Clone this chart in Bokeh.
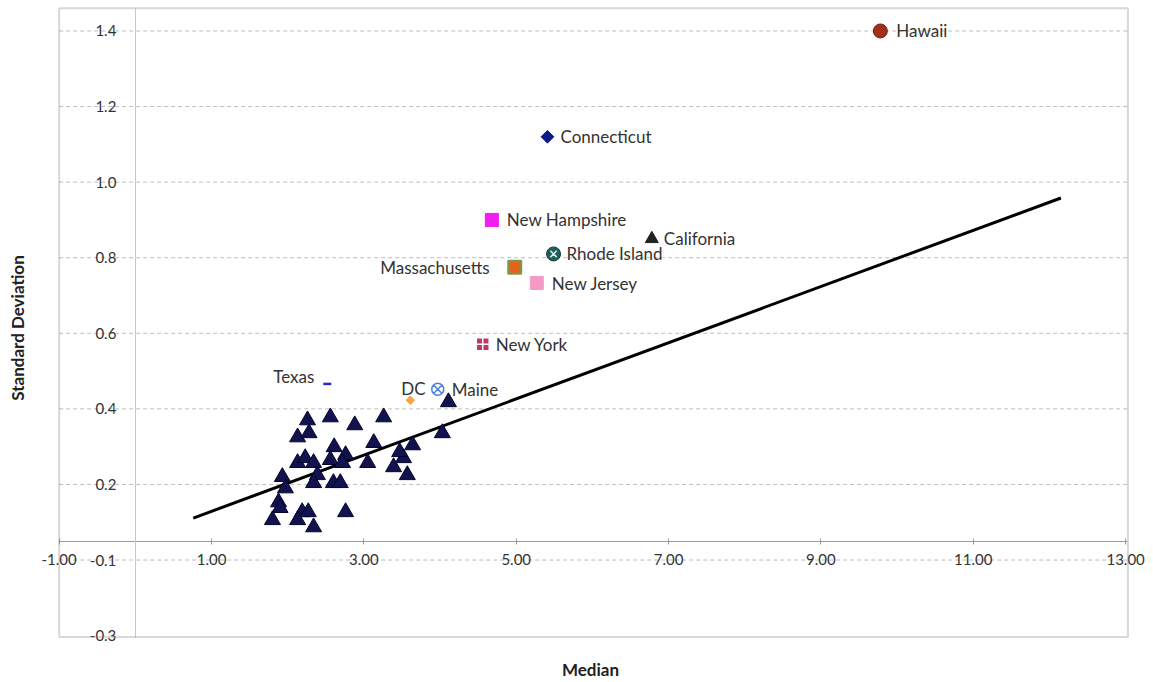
import math
from bokeh.plotting import figure
from bokeh.models import (LinearAxis, FixedTicker, Grid, Range1d, ColumnDataSource, Title,
                          BoxAnnotation)
from bokeh.embed import file_html
from bokeh.resources import INLINE
from bokeh.core.properties import value

# ---------------- data ----------------
tri_median = [4.11, 2.26, 2.56, 2.88, 3.26, 2.13, 2.28, 4.03, 2.61, 3.13,
              3.64, 2.13, 2.23, 2.34, 2.56, 2.76, 2.72, 3.05, 3.39, 3.52,
              3.47, 3.57, 1.93, 2.39, 2.34, 2.60, 2.69, 1.97, 1.88, 1.90,
              1.80, 2.19, 2.27, 2.13, 2.34, 2.76]
tri_sd = [0.418, 0.370, 0.378, 0.357, 0.378, 0.325, 0.336, 0.336, 0.299, 0.310,
          0.304, 0.257, 0.270, 0.257, 0.265, 0.278, 0.257, 0.257, 0.246, 0.270,
          0.286, 0.225, 0.220, 0.225, 0.204, 0.204, 0.204, 0.190, 0.153, 0.138,
          0.106, 0.127, 0.127, 0.106, 0.087, 0.127]

named_states = ["Hawaii", "Connecticut", "New Hampshire", "California", "Rhode Island",
                "Massachusetts", "New Jersey", "New York", "Texas", "DC", "Maine"]
named_median = [9.78, 5.41, 4.68, 6.78, 5.49, 4.98, 5.27, 4.56, 2.52, 3.61, 3.97]
named_sd = [1.40, 1.12, 0.90, 0.85, 0.81, 0.775, 0.733, 0.571, 0.466, 0.423, 0.452]

fit_median = [0.76, 12.15]
fit_sd = [0.111, 0.958]

x_tick_values = [-1, 1, 3, 5, 7, 9, 11, 13]
x_tick_labels = ["-1.00", "1.00", "3.00", "5.00", "7.00", "9.00", "11.00", "13.00"]
y_tick_values = [1.4, 1.2, 1.0, 0.8, 0.6, 0.4, 0.2, 0.0, -0.2]
y_tick_labels = ["1.4", "1.2", "1.0", "0.8", "0.6", "0.4", "0.2", "-0.1", "-0.3"]

# plot box (data extent of the drawn frame)
box_x = (-1.0, 13.03)
box_y = (-0.204, 1.46)
x_axis_cross = 0.05

# ---------------- styles ----------------
marker_style = {
    "Hawaii":        dict(marker="circle",       size=14, fill="#A1301A", line="#7A1F10", lw=1, angle=0),
    "Connecticut":   dict(marker="square",       size=9,  fill="#0B1A8A", line="#0B1A8A", lw=1, angle=math.pi / 4),
    "New Hampshire": dict(marker="square",       size=13, fill="#F01EF0", line="#F01EF0", lw=1, angle=0),
    "California":    dict(marker="triangle",     size=13, fill="#222222", line="#222222", lw=1, angle=0),
    "Rhode Island":  dict(marker="circle",       size=14, fill="#1F5F5A", line="#0E3E3C", lw=1, angle=0),
    "Massachusetts": dict(marker="square",       size=13, fill="#E0641E", line="#7D9A4A", lw=2, angle=0),
    "New Jersey":    dict(marker="square",       size=13, fill="#F59AC6", line="#F59AC6", lw=1, angle=0),
    "New York":      dict(marker="square_cross", size=13, fill="#C03860", line="#FFFFFF", lw=1.5, angle=0),
    "Texas":         dict(marker="dash",         size=8,  fill="#2A2ACF", line="#2A2ACF", lw=2.5, angle=0),
    "DC":            dict(marker="square",       size=6,  fill="#F2A547", line="#F2A547", lw=1, angle=math.pi / 4),
    "Maine":         dict(marker="circle_x",     size=12, fill="#FFFFFF", line="#4D7FE0", lw=1.5, angle=0),
}
label_style = {
    "Hawaii": (16, 0, "left"), "Connecticut": (13, 0, "left"), "New Hampshire": (15, 0, "left"),
    "California": (12, 0, "left"), "Rhode Island": (13, 0, "left"), "Massachusetts": (-25, 0, "right"),
    "New Jersey": (15, 0, "left"), "New York": (13, 0, "left"), "Texas": (-13, -7, "right"),
    "DC": (3, -12, "center"), "Maine": (14, 0, "left"),
}

FONT = "Lato"

p = figure(frame_width=1116, frame_height=653,
           x_range=Range1d(-1.35, 13.30), y_range=Range1d(-0.25, 1.478),
           x_axis_location=None, y_axis_location=None,
           output_backend="svg", toolbar_location=None,
           min_border_left=32, min_border_right=2, min_border_top=1, min_border_bottom=26)
p.outline_line_color = None
p.background_fill_color = "white"
p.border_fill_color = "white"
p.center = [r for r in p.center if not isinstance(r, Grid)]

# dashed horizontal grid lines inside the box
grid_vals = y_tick_values[:-1]
p.segment(x0=[box_x[0]] * len(grid_vals), x1=[box_x[1]] * len(grid_vals),
          y0=grid_vals, y1=grid_vals, line_color="#BDBDBD", line_dash="4 3", line_width=1)

# frame box
p.add_layout(BoxAnnotation(left=box_x[0], right=box_x[1], bottom=box_y[0], top=box_y[1],
                           fill_color=None, fill_alpha=0, line_color="#7E7E7E", line_width=2))

yax = LinearAxis(fixed_location=0, ticker=FixedTicker(ticks=y_tick_values),
                 major_label_overrides={v: l for v, l in zip(y_tick_values, y_tick_labels)},
                 bounds=box_y)
yax.axis_line_color = "#C8C8C8"
yax.axis_line_width = 1
yax.major_tick_line_color = None
yax.minor_tick_line_color = None
yax.major_label_standoff = 13
yax.major_label_text_font = FONT
yax.major_label_text_font_size = "15px"
yax.major_label_text_color = "#333333"
p.add_layout(yax, "left")

xax = LinearAxis(fixed_location=x_axis_cross, ticker=FixedTicker(ticks=x_tick_values),
                 major_label_overrides={v: l for v, l in zip(x_tick_values, x_tick_labels)},
                 bounds=box_x)
xax.axis_line_color = "#9A9A9A"
xax.axis_line_width = 1
xax.major_tick_line_color = "#9A9A9A"
xax.major_tick_in = 3
xax.major_tick_out = 3
xax.minor_tick_line_color = None
xax.major_label_standoff = 10
xax.major_label_text_font = FONT
xax.major_label_text_font_size = "15px"
xax.major_label_text_color = "#333333"
p.add_layout(xax, "below")

p.add_layout(Title(text="Standard Deviation", align="center", vertical_align="middle",
                   text_font=FONT, text_font_size="17px", text_font_style="bold",
                   text_color="#222222", standoff=8), "left")
p.add_layout(Title(text="Median", align="center", vertical_align="top", text_font=FONT,
                   text_font_size="17px", text_font_style="bold", text_color="#222222",
                   standoff=8), "below")

# regression line
p.line(fit_median, fit_sd, line_color="black", line_width=3)

# unlabeled states
p.scatter(tri_median, tri_sd, marker="triangle", size=16,
          fill_color="#12124E", line_color="#05052E", line_width=1)

# labeled states
for name, mx, sy in zip(named_states, named_median, named_sd):
    s = marker_style[name]
    p.scatter([mx], [sy], marker=s["marker"], size=s["size"], fill_color=s["fill"],
              line_color=s["line"], line_width=s["lw"], angle=s["angle"])
    if name == "Rhode Island":
        p.scatter([mx], [sy], marker="x", size=9, line_color="#D8F0EE", line_width=1.5)

src = ColumnDataSource(dict(
    x=named_median, y=named_sd, text=named_states,
    dx=[label_style[n][0] for n in named_states],
    dy=[label_style[n][1] for n in named_states],
    align=[label_style[n][2] for n in named_states],
))
p.text(x="x", y="y", text="text", x_offset="dx", y_offset="dy", text_align="align",
       text_baseline="middle", text_font=value(FONT), text_font_size="17px",
       text_color="#333333", source=src)

open("out.html", "w").write(file_html(p, INLINE))
